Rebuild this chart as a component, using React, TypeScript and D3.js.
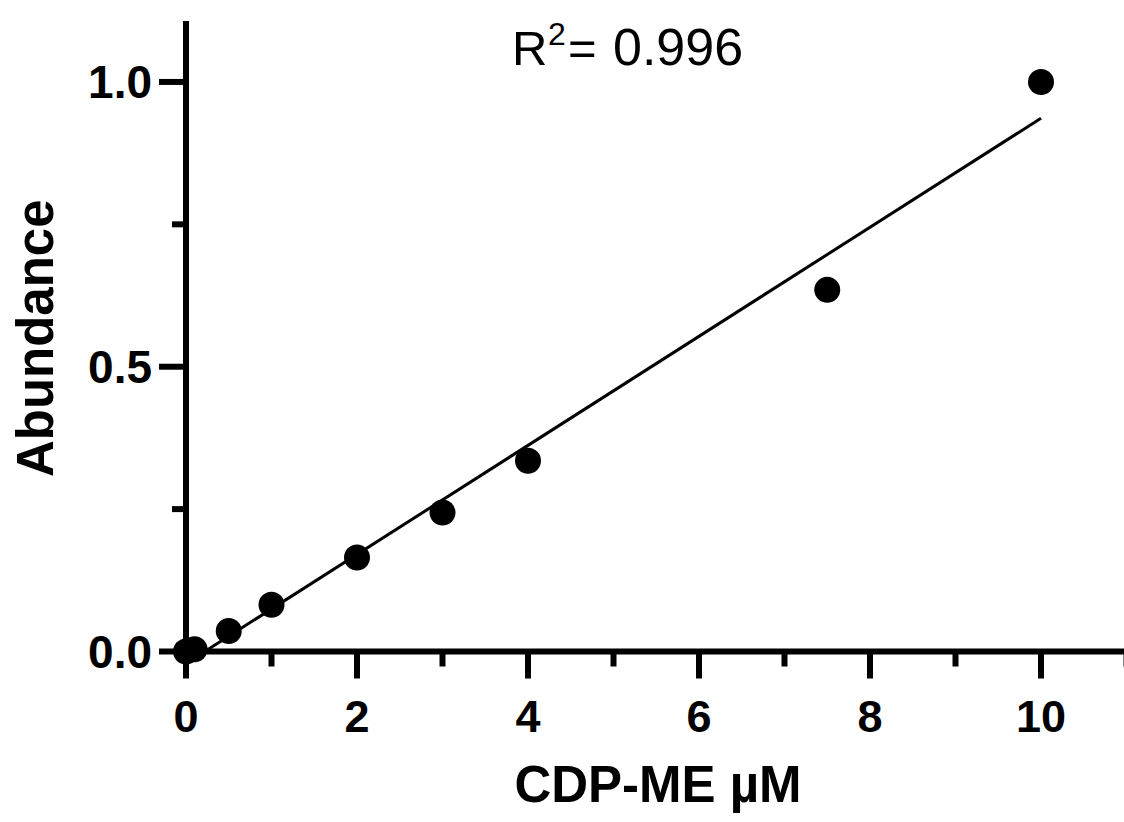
import * as d3 from 'd3'

// concentration (µM) and normalised abundance
const concentrations = [0, 0.1, 0.5, 1, 2, 3, 4, 7.5, 10]
const abundance = [0, 0.004, 0.036, 0.082, 0.165, 0.244, 0.335, 0.635, 1.0]

const xMajorTicks = [0, 2, 4, 6, 8, 10]
const xMinorTicks = [1, 3, 5, 7, 9, 11]
const yMajorTicks = [0, 0.5, 1.0]
const yMinorTicks = [0.25, 0.75]

const rSquaredLabel = '0.996'

const width = 1124
const height = 822
const font = '"Liberation Sans", Arial, sans-serif'

// least squares fit of abundance on concentration
const linearFit = (xs: number[], ys: number[]) => {
  const mx = d3.mean(xs) as number
  const my = d3.mean(ys) as number
  const sxy = d3.sum(xs, (x, i) => (x - mx) * (ys[i] - my))
  const sxx = d3.sum(xs, (x) => (x - mx) ** 2)
  const slope = sxy / sxx
  return { slope, intercept: my - slope * mx }
}

export default function App() {
  const x = d3.scaleLinear().domain([0, 11]).range([186, 1126.5])
  const y = d3.scaleLinear().domain([0, 1.1]).range([651.5, 25])

  const { slope, intercept } = linearFit(concentrations, abundance)
  const fitLine = d3
    .line<number>()
    .x((d) => x(d))
    .y((d) => y(slope * d + intercept))

  const points = concentrations.map((c, i) => ({ c, v: abundance[i] }))

  return (
    <svg
      width={width}
      height={height}
      style={{ position: 'absolute', left: 0, top: 0, background: 'white' }}
      fontFamily={font}
    >
      {/* fit line */}
      <path
        d={fitLine([0, 10]) ?? ''}
        fill="none"
        stroke="black"
        strokeWidth={3}
      />

      {/* x axis */}
      <line
        x1={x(0) - 3}
        x2={x(11)}
        y1={y(0)}
        y2={y(0)}
        stroke="black"
        strokeWidth={6}
      />
      {xMajorTicks.map((t) => (
        <g key={'xM' + t}>
          <line
            x1={x(t)}
            x2={x(t)}
            y1={y(0)}
            y2={y(0) + 27}
            stroke="black"
            strokeWidth={6}
          />
          <text
            x={x(t)}
            y={732}
            textAnchor="middle"
            fontSize={45}
            fontWeight="bold"
          >
            {t}
          </text>
        </g>
      ))}
      {xMinorTicks.map((t) => (
        <line
          key={'xm' + t}
          x1={x(t)}
          x2={x(t)}
          y1={y(0)}
          y2={y(0) + 15}
          stroke="black"
          strokeWidth={6}
        />
      ))}

      {/* y axis */}
      <line
        x1={x(0)}
        x2={x(0)}
        y1={y(1.1) - 4}
        y2={y(0) + 3}
        stroke="black"
        strokeWidth={6}
      />
      {yMajorTicks.map((t) => (
        <g key={'yM' + t}>
          <line
            x1={x(0) - 27}
            x2={x(0)}
            y1={y(t)}
            y2={y(t)}
            stroke="black"
            strokeWidth={6}
          />
          <text
            x={152}
            y={y(t) + 16.5}
            textAnchor="end"
            fontSize={46}
            fontWeight="bold"
          >
            {t.toFixed(1)}
          </text>
        </g>
      ))}
      {yMinorTicks.map((t) => (
        <line
          key={'ym' + t}
          x1={x(0) - 14}
          x2={x(0)}
          y1={y(t)}
          y2={y(t)}
          stroke="black"
          strokeWidth={6}
        />
      ))}

      {/* points */}
      {points.map((p) => (
        <circle key={p.c} cx={x(p.c)} cy={y(p.v)} r={13} fill="black" />
      ))}

      {/* axis titles */}
      <text
        x={658}
        y={802}
        textAnchor="middle"
        fontSize={51}
        fontWeight="bold"
      >
        CDP-ME µM
      </text>
      <text
        transform={`translate(53, ${(y(1.1) + y(0)) / 2}) rotate(-90)`}
        textAnchor="middle"
        fontSize={51}
        fontWeight="bold"
      >
        Abundance
      </text>

      {/* R squared annotation */}
      <text x={512} y={65} fontSize={49}>
        R
        <tspan fontSize={32} x={548} dy={-20}>
          2
        </tspan>
        <tspan x={568} dy={20}>
          =
        </tspan>
        <tspan x={613} fontSize={52}>
          {rSquaredLabel}
        </tspan>
      </text>
    </svg>
  )
}
